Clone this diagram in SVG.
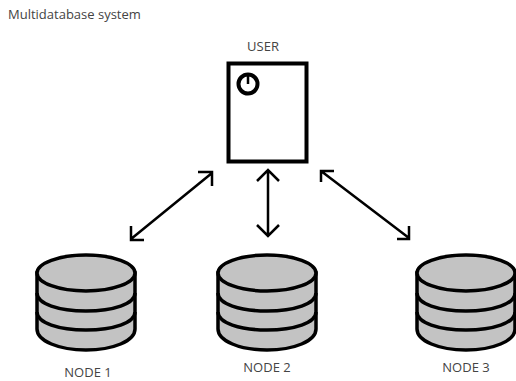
<svg xmlns="http://www.w3.org/2000/svg" width="516" height="381" viewBox="0 0 516 381">
<defs>
<style>
text{font-family:"Open Sans","Noto Sans","Liberation Sans",sans-serif;font-size:13px;fill:#444}
.m{text-anchor:middle}
.a{fill:none;stroke:#000;stroke-width:2.500}
.c{fill:#c3c3c3;stroke:#000;stroke-width:3.500}
.l{fill:none;stroke:#000;stroke-width:3.500}
</style>
<g id="db">
<path class="c" d="M-49 18V74C-49 86-27 95 0 95S49 86 49 74V18Z"/>
<ellipse class="c" cx="0" cy="18" rx="49" ry="18"/>
<path class="l" d="M-49 38C-49 49-27 56 0 56S49 49 49 38"/>
<path class="l" d="M-49 57C-49 68-27 75 0 75S49 68 49 57"/>
</g>
</defs>
<rect width="516" height="381" fill="#fff"/>
<text x="8" y="19">Multidatabase system</text>
<g id="user">
<text class="m" x="263" y="51">USER</text>
<rect x="228.500" y="63.500" width="78" height="98" fill="#fff" stroke="#000" stroke-width="4"/>
<circle cx="248" cy="84" r="9.500" fill="none" stroke="#000" stroke-width="4"/>
<path d="M248 75V84" stroke="#000" stroke-width="2.500"/>
</g>
<g id="connectors">
<path class="a" d="M131 239L212 173M131 226L131 240L144 240M198 172L212 172L212 186"/>
<path class="a" d="M268 171V235M257 181L268 170L279 181M257 225L268 236L279 225"/>
<path class="a" d="M321 171L409 238M321 182L321 171L334 171M409 226L409 239L397 239"/>
</g>
<g id="node1"><use href="#db" x="86" y="255"/><text class="m" x="88" y="377">NODE 1</text></g>
<g id="node2"><use href="#db" x="267" y="255"/><text class="m" x="267" y="372">NODE 2</text></g>
<g id="node3"><use href="#db" x="466" y="255"/><text class="m" x="466" y="372">NODE 3</text></g>
</svg>
